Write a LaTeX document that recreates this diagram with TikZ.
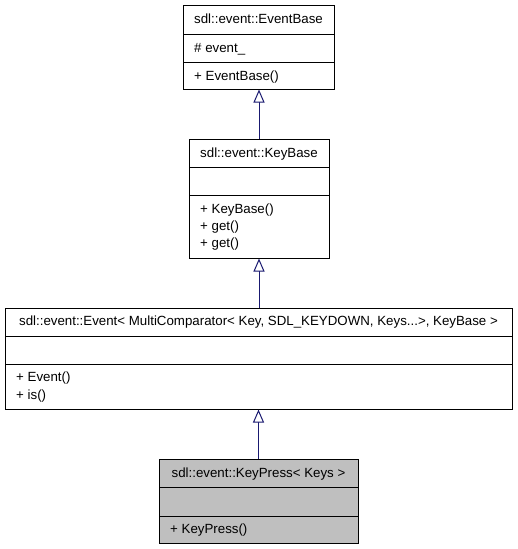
\documentclass[tikz,border=0pt]{standalone}
\usepackage{fontspec}
\setmainfont{Liberation Sans}
\usepackage{xcolor}
\usetikzlibrary{arrows.meta}
\definecolor{inheritblue}{HTML}{191970}
\tikzstyle{classbox}=[draw=black, line width=1pt, rectangle, inner sep=0pt]
\tikzstyle{shaded}=[fill=black!25]
\tikzstyle{unshaded}=[fill=white]
\tikzstyle{inherit}=[draw=inheritblue, line width=1pt, -{Triangle[open, fill=white, length=13pt, width=11pt]}]
\tikzstyle{title}=[anchor=base, inner sep=0pt]
\tikzstyle{member}=[anchor=base west, inner sep=0pt]
% name, shading, left, top, right, bottom, first row, second row
\newcommand{\umlclass}[8]{
 \node[classbox, #2, minimum width={(#5-#3)*1pt}, minimum height={(#6-#4)*1pt}] (#1) at ({(#3+#5)/2},{(#4+#6)/2}) {};
 \draw[line width=1pt] (#3,#7) -- (#5,#7);
 \draw[line width=1pt] (#3,#8) -- (#5,#8);
}

\begin{document}
\begin{tikzpicture}[x=1pt, y=-1pt, font=\fontsize{13.3}{16}\selectfont]
 \useasboundingbox (0,0) rectangle (517,549);
%
 \umlclass{eventbase}{unshaded}{183}{5}{334}{89}{34}{62}
 \node[title] (eventbasetitle) at (258.5,23) {sdl::event::EventBase};
 \node[member] (eventbaseattr) at (194,52) {\# event\_};
 \node[member] (eventbaseop) at (194,80) {+ EventBase()};
%
 \umlclass{keybase}{unshaded}{189}{139}{329}{258}{167}{195}
 \node[title] (keybasetitle) at (259,157) {sdl::event::KeyBase};
 \node[member] (keybaseop1) at (200,213) {+ KeyBase()};
 \node[member] (keybaseop2) at (200,230) {+ get()};
 \node[member] (keybaseop3) at (200,247) {+ get()};
%
 \umlclass{event}{unshaded}{5}{308}{512}{409}{336}{364}
 \node[title] (eventtitle) at (258.5,325) {sdl::event::Event< MultiComparator< Key, SDL\_KEYDOWN, Keys...>, KeyBase >};
 \node[member] (eventop1) at (16,381) {+ Event()};
 \node[member] (eventop2) at (16,399) {+ is()};
%
 \umlclass{keypress}{shaded}{159}{459}{358}{543}{487}{516}
 \node[title] (keypresstitle) at (258.5,477) {sdl::event::KeyPress< Keys >};
 \node[member] (keypressop) at (170,533) {+ KeyPress()};
%
 \draw[inherit] (keybase.north) -- (keybase.north |- eventbase.south);
 \draw[inherit] (event.north -| keybase.south) -- (keybase.south);
 \draw[inherit] (keypress.north) -- (keypress.north |- event.south);
\end{tikzpicture}
\end{document}
